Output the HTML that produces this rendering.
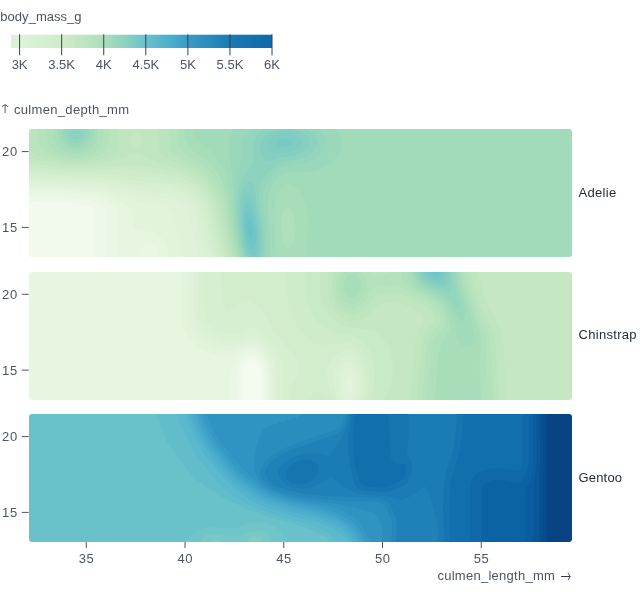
<!DOCTYPE html>
<html><head><meta charset="utf-8"><title>penguins</title>
<style>
html,body{margin:0;padding:0;background:#fff;}
body{width:640px;height:599px;overflow:hidden;}
svg{display:block;font-family:"Liberation Sans",sans-serif;font-size:13px;fill:#4b5563;}
.ar{font-family:"DejaVu Sans Light","DejaVu Sans",sans-serif;font-weight:200;font-size:12px;fill:#333d4d;}
</style></head><body>
<svg width="640" height="599" viewBox="0 0 640 599">
<defs><linearGradient id="lg" x1="0" x2="1" y1="0" y2="0"><stop offset="0.0000" stop-color="#dcf1d7"/><stop offset="0.0323" stop-color="#def2d8"/><stop offset="0.0645" stop-color="#dbf1d5"/><stop offset="0.0968" stop-color="#d8f0d2"/><stop offset="0.1290" stop-color="#d5efd0"/><stop offset="0.1613" stop-color="#d2edcd"/><stop offset="0.1935" stop-color="#cfecca"/><stop offset="0.2258" stop-color="#c9eac6"/><stop offset="0.2581" stop-color="#c3e7c2"/><stop offset="0.2903" stop-color="#bbe5bf"/><stop offset="0.3226" stop-color="#b4e2bc"/><stop offset="0.3548" stop-color="#abdeba"/><stop offset="0.3871" stop-color="#9fdabb"/><stop offset="0.4194" stop-color="#92d5bd"/><stop offset="0.4516" stop-color="#84cfc1"/><stop offset="0.4839" stop-color="#77c9c5"/><stop offset="0.5161" stop-color="#69c2ca"/><stop offset="0.5484" stop-color="#5fbbcc"/><stop offset="0.5806" stop-color="#55b4cd"/><stop offset="0.6129" stop-color="#4badcc"/><stop offset="0.6452" stop-color="#42a4ca"/><stop offset="0.6774" stop-color="#399cc6"/><stop offset="0.7097" stop-color="#3395c3"/><stop offset="0.7419" stop-color="#2d8ebf"/><stop offset="0.7742" stop-color="#2788bc"/><stop offset="0.8065" stop-color="#2181b9"/><stop offset="0.8387" stop-color="#1b7bb5"/><stop offset="0.8710" stop-color="#1877b3"/><stop offset="0.9032" stop-color="#1574b1"/><stop offset="0.9355" stop-color="#1370ae"/><stop offset="0.9677" stop-color="#116cac"/><stop offset="1.0000" stop-color="#0f69a9"/></linearGradient></defs>
<rect width="640" height="599" fill="#fff"/>
<text x="0.3" y="20.6" textLength="81.3">body_mass_g</text>
<rect x="11" y="34.7" width="261" height="13.3" fill="url(#lg)"/>
<line x1="19.60" x2="19.60" y1="34.3" y2="55.3" stroke="#374151" stroke-width="1"/><text x="19.60" y="69.3" text-anchor="middle">3K</text><line x1="61.67" x2="61.67" y1="34.3" y2="55.3" stroke="#374151" stroke-width="1"/><text x="61.67" y="69.3" text-anchor="middle">3.5K</text><line x1="103.74" x2="103.74" y1="34.3" y2="55.3" stroke="#374151" stroke-width="1"/><text x="103.74" y="69.3" text-anchor="middle">4K</text><line x1="145.81" x2="145.81" y1="34.3" y2="55.3" stroke="#374151" stroke-width="1"/><text x="145.81" y="69.3" text-anchor="middle">4.5K</text><line x1="187.88" x2="187.88" y1="34.3" y2="55.3" stroke="#374151" stroke-width="1"/><text x="187.88" y="69.3" text-anchor="middle">5K</text><line x1="229.95" x2="229.95" y1="34.3" y2="55.3" stroke="#374151" stroke-width="1"/><text x="229.95" y="69.3" text-anchor="middle">5.5K</text><line x1="272.02" x2="272.02" y1="34.3" y2="55.3" stroke="#374151" stroke-width="1"/><text x="272.02" y="69.3" text-anchor="middle">6K</text>
<text transform="translate(-2.2,113.4) scale(1.4,1)" class="ar">↑</text><text x="14" y="113.8" textLength="115">culmen_depth_mm</text>
<g>
<rect x="27" y="127" width="547" height="132" fill="#f1faeb"/>
<path fill="#eef8e8" fill-rule="evenodd" d="M27 127l546 0 0 132 -478.5 0 0-46 -0.5-2 -1-2 -2.5-2 -5-2 -10.5-2 -18-1 -30-0.5z"/>
<path fill="#eaf7e4" fill-rule="evenodd" d="M27 127l546 0 0 132 -466.5 0 0-48 -1.5-3 -3-3 -3.5-2 -5-2 -12.5-2.5 -20-1.5 -34-0.5z"/>
<path fill="#e7f6e1" fill-rule="evenodd" d="M27 127l546 0 0 132 -414.5 0 0.5-2 -0.5-4 -1.5-4 -2-2.5 -2-1.5 -4-0.5 -4 1 -3.5 3.5 -1.5 4 0 4 0.5 2 -22.5 0 -1-48 -2-4 -4.5-4 -5.5-3 -6-2.5 -14-3 -20-1 -38-1z"/>
<path fill="#e3f4dd" fill-rule="evenodd" d="M27 127l546 0 0 132 -405 0 0-6 -0.5-4 -2.5-6 -3-4 -3-3 -6-3.5 -4-1 -10-1 -3-1.5 -1.5-2 -1.5-4 -1-12 -1.5-2 -5-4 -11-6 -13.5-5 -14-2.5 -20-1.5 -40-1z"/>
<path fill="#e0f3da" fill-rule="evenodd" d="M27 127l546 0 0 132 -389 0 -3-16 -8.5-30 -0.5-2 -3-2.5 -8-2.5 -28-6 -24-8 -13-3 -19-1.5 -50-1.5z"/>
<path fill="#dcf1d7" fill-rule="evenodd" d="M27 127l546 0 0 132 -374 0 -11.5-48 -2.5-4 -2-2 -6-3.5 -10-2.5 -34-4.5 -26-7 -12-2 -16-1 -52-2z"/>
<path fill="#d9f0d3" fill-rule="evenodd" d="M27 127l546 0 0 132 -367 0 -11.5-50 -2.5-4 -3-3 -4-3 -3.5-2 -6-2 -6.5-1.5 -36-4 -26-5.5 -10-1.5 -70-3z"/>
<path fill="#d5efd0" fill-rule="evenodd" d="M27 127l546 0 0 132 -361.5 0 -10.5-46 -2-5.5 -2.5-4.5 -3.5-4 -4-3.5 -6-3 -6-2 -8-2 -36-3.5 -32-5 -74-3.5z"/>
<path fill="#d2edcc" fill-rule="evenodd" d="M27 127l546 0 0 132 -357.5 0 -11.5-50 -1.5-4 -3.5-5.5 -4-4.5 -4-3 -6-3.5 -6-2 -8-2 -10-1.5 -60-6 -36-1.5 -38-2z"/>
<path fill="#ceecc9" fill-rule="evenodd" d="M27 127l546 0 0 132 -354 0 -12-52 -3-6 -3-4.5 -4-4.5 -4-3.5 -6-3.5 -8-3 -10-2 -14-2 -46-4 -42-1 -40-3z"/>
<path fill="#c9eac6" fill-rule="evenodd" d="M27 127l546 0 0 132 -351 0 -10.5-48 -2-6 -2.5-6 -4-6 -4-4.5 -6-4.5 -8-4.5 -10-3 -12-2 -22-3 -20-1 -52 0 -42-4z"/>
<path fill="#c5e8c3" fill-rule="evenodd" d="M27 127l546 0 0 132 -348 0 -10.5-48 -2.5-8 -3-6.5 -4-6 -4.5-5.5 -5.5-4.5 -8-4.5 -10-3.5 -38-7.5 -10 0 -36 2.5 -18 0.5 -16-1 -32-4z"/>
<path fill="#c0e6c0" fill-rule="evenodd" d="M27 127l546 0 0 132 -345 0 -5-22 -6-28 -2.5-8 -3.5-7.5 -4-6.5 -6-6.5 -6-4.5 -6-3.5 -6-2.5 -29-9 -17-8 -4 0.5 -12 5.5 -10 2.5 -14 2.5 -14 1 -12 0 -10-1 -34-6zM137 133l-2 0.5 -2.5 1.5 -1.5 2.5 -0.5 3.5 0.5 3.5 2 2.5 2 1.5 2 0 2-0.5 2-1.5 2-3 0.5-2.5 -0.5-3.5 -1.5-2.5 -2.5-1.5z"/>
<path fill="#bae4be" fill-rule="evenodd" d="M27 127l93 0 -2 10 -1 12 -1 2 -3 3.5 -4.5 2.5 -9.5 3 -10 1.5 -12 1 -12-1 -14-2.5 -14-4 -9-4 -1-1zM156 127l417 0 0 132 -342.5 0 -5-22 -6-30 -2.5-8.5 -4-8.5 -4-6 -4-5 -8-7 -8-4.5 -21-8.5 -5-3 -3.5-3 -1-4 0.5-6 -0.5-6 -1-6z"/>
<path fill="#b4e2bc" fill-rule="evenodd" d="M38.5 127l72 0 -1 10 -2 10 -2 4 -2.5 2 -6 3 -8 2.5 -8 1 -8 0 -8-1 -7.5-1.5 -10.5-4 -5.5-4 -1.5-4 -2-6 0-6zM168 127l405 0 0 132 -340 0 -5-22 -5.5-32 -2.5-8 -3.5-8 -6.5-10 -7-7.5 -8-6 -17-8.5 -5-4 -1.5-2 -1.5-4z"/>
<path fill="#aee0bb" fill-rule="evenodd" d="M47.5 127l55.5 0 0 6 -0.5 6 -2 6 -2 4 -2 2 -3.5 2 -6 2 -8 1.5 -8 0 -6-1 -6-2 -4-2 -3-2.5 -1.5-2 -2-4 -1.5-6 0-4zM177 127l396 0 0 132 -337.5 0 -5.5-24 -5-32 -2-8 -3-8 -6-10 -7-8.5 -8-6 -12.5-7.5 -5.5-5 -2-4 -1.5-7z"/>
<path fill="#a8ddba" fill-rule="evenodd" d="M54 127l43.5 0 0.5 6 -1 6 -1.5 4 -2.5 4 -2 2 -4 2.5 -4 1 -6 1 -6-0.5 -4-0.5 -6.5-3.5 -2.5-2 -2.5-4 -2-4 -0.5-4 0-4zM184.5 129l0.5-2 388 0 0 132 -335 0 -6-26 -5-36 -4-14 -5-10 -7-9 -6-5 -12.5-8 -3.5-3.5 -2.5-4.5 -1.5-4 -0.5-4zM285 208.5l-2 3.5 -1.5 5 -0.5 6 0 8 1.5 8 1 4 1.5 2.5 2 2 2 0 2.5-2.5 2.5-6 1.5-8 -0.5-8 -1.5-8 -2.5-5.5 -2-2 -2 0z"/>
<path fill="#a2dbba" fill-rule="evenodd" d="M58.5 127l34.5 0 1 6 -1.5 6 -3.5 6 -2.5 2 -3.5 2 -6 1 -4 0 -4-1 -6-3.5 -3.5-4.5 -2-6 0-4zM196 127l377 0 0 132 -269.5 0 3-12 1-14 0-14 -1.5-12 -3.5-10 -3-6 -4.5-4 -4-2 -2-0.5 -4 1 -2 1 -4 4 -2.5 4.5 -2 8 -1 10 0.5 14 1 18.5 1.5 13.5 -36.5 0 -3.5-14 -2.5-12 -4.5-42 -1.5-8 -2-8 -4.5-10 -6.5-9.5 -6-6 -10-7 -2.5-3.5 -1.5-3 -0.5-3z"/>
<path fill="#9bd8bb" fill-rule="evenodd" d="M62.5 127l26.5 0 1 4 -0.5 6 -2.5 4.5 -4 3.5 -6 2 -6-1 -5-3 -3.5-4 -1.5-6zM234 129l1.5-2 98.5 0 4.5 6 1.5 4 1 4 0 4 -0.5 4 -1.5 4 -4 6 -8 7 -8 4 -6 2 -8 0.5 -14 0 -6 0.5 -4 2 -2 1.5 -4 4.5 -2.5 4 -3.5 8 -1.5 8 2.5 38 0 20 -28.5 0 -1-4 -2.5-12 -3-16 -1-14 -2-42 -3.5-22 0-6 0.5-4 2.5-6z"/>
<path fill="#94d5bd" fill-rule="evenodd" d="M66.5 127l19 0 1.5 4 -0.5 4 -0.5 2 -3 4 -4 2 -4 0.5 -4-1 -4-3.5 -2-4 0-4zM252 129l3-2 60.5 0 3.5 2.5 3 3.5 2.5 4 1 4 0 4 -1 4 -2.5 4 -5 4.5 -6 3.5 -6 2.5 -18 2.5 -6 1.5 -4 2.5 -3 3 -8 12 -2.5 6 -1 8 4 34 0 14 -0.5 12 -22.5 0 -4-16 -3-18 -0.5-18 0-18 1.5-12 3-16 1-16 1.5-4 1.5-4 3-4z"/>
<path fill="#8dd2be" fill-rule="evenodd" d="M71 127l10 0 2 3.5 0.5 2.5 -0.5 2 -2 2.5 -2 1.5 -4 1 -2.5-1 -2.5-2 -1-2 -0.5-4 0.5-2zM264.5 129l4.5-2 33 0 7 3.5 5 4.5 2.5 4 0.5 2 -0.5 4 -1.5 4 -1.5 2 -2.5 2.5 -4 2.5 -8 3 -18 3.5 -6 2.5 -6 6 -7 10 -2.5 6 -1 8 4 26 1 12 0.5 14 -1 12 -17.5 0 -4.5-16 -2.5-18 -1-18 1.5-17.5 2-8.5 2-4.5 2-3 6-6 2-4.5 0.5-6 -1-12 1.5-6 4.5-6z"/>
<path fill="#86cfc0" fill-rule="evenodd" d="M280 129l7-0.5 6 0.5 6 2 4 2 3 2 3 4 0.5 4 -1 4 -4 4 -5.5 3 -6 1.5 -14 2.5 -12 4 -2 0 -2-2.5 -2.5-8.5 -0.5-6 1-4 2-4 5-4 5-2.5zM75 133l0-0.5 1 0.5 -1 0zM246.5 183l2.5-1 2 0 2 2.5 6.5 32.5 2 12 0.5 10 -0.5 12 -1 8 -13 0 -3-8 -3-12 -2-18 0.5-18 1-8 1.5-6 2.5-4.5z"/>
<path fill="#7fccc3" fill-rule="evenodd" d="M282.5 133l6.5 0 4 1 4 1.5 4 3.5 1 2 0.5 2 -1 2 -1 2 -3 2 -6.5 2.5 -14 2 -6-1 -2.5-1.5 -1.5-4 0-3 1-3 1-2 4-3 4-2zM246.5 193l0.5-0.5 2 0.5 2.5 4 3.5 9.5 3.5 14.5 1.5 12 0 10 -1 10 -1.5 6 -7.5 0 -1-2 -4-10 -2-10 -1.5-14 0-14 1.5-9.5 2-5z"/>
<path fill="#77c9c5" fill-rule="evenodd" d="M282 139l3-0.5 4 1 2.5 1.5 0.5 2 -1.5 2 -3.5 1.5 -4 0.5 -4-1 -1.5-1 -0.5-2 1-2zM246 203l1-1.5 2 0 2 2.5 4 11 2.5 12 0.5 10 -0.5 10 -0.5 4 -2 4 -2 1 -2-1 -2-3 -2-5 -2-7 -1-7 -1-8 0-10 1.5-8z"/>
<path fill="#70c5c8" fill-rule="evenodd" d="M246.5 211l0.5-0.5 2-1 2 2.5 2 4.5 2 8.5 1 8 0 8 -1 5.5 -2 3 -2-0.5 -2-3 -2-5.5 -1.5-7.5 -0.5-6 0-8 0.5-4z"/>
<path fill="#69c2ca" fill-rule="evenodd" d="M249 219l2 1.5 2 8.5 0 10 -2 2 -2-3.5 -1.5-8.5 0-6z"/>
<path fill="#fff" fill-rule="evenodd" d="M26 126h549v134h-549zM32 129h537a3 3 0 0 1 3 3v122a3 3 0 0 1 -3 3h-537a3 3 0 0 1 -3 -3v-122a3 3 0 0 1 3 -3z"/>
</g>
<g>
<rect x="27" y="270" width="547" height="132" fill="#f5fbee"/>
<path fill="#f1faeb" fill-rule="evenodd" d="M27 270l546 0 0 132 -313 0 1-6 0.5-8 -0.5-14 -1.5-6 -2-4 -2.5-3 -2-0.5 -2 0 -2 0.5 -2 2 -2 4 -1.5 5 -1 14 0.5 8 1.5 8 -217.5 0z"/>
<path fill="#eef8e8" fill-rule="evenodd" d="M27 270l546 0 0 132 -310.5 0 1-8 0-10 -0.5-9.5 -1-6.5 -2.5-6 -2.5-3.5 -2-1.5 -4-0.5 -4 1.5 -2 2 -2.5 4 -1.5 6 -1 8 -0.5 8 1.5 16 -214 0z"/>
<path fill="#eaf7e4" fill-rule="evenodd" d="M27 270l546 0 0 132 -308.5 0 1-10 0-10 -0.5-8 -1.5-8 -2-6 -2.5-3.5 -4-3 -4-0.5 -4 1 -4 3.5 -3.5 4.5 -1.5 4 -1.5 8 0 8 0 10 1 10 -210.5 0z"/>
<path fill="#e7f6e1" fill-rule="evenodd" d="M27 270l546 0 0 132 -306 0 0.5-10 0-12 -1-10 -1.5-7.5 -2-4.5 -4-5 -4-2.5 -4-0.5 -6 2 -5.5 4 -3.5 4 -3.5 6 -1.5 6 -0.5 8 1 22 -204.5 0z"/>
<path fill="#e3f4dd" fill-rule="evenodd" d="M181.5 270l391.5 0 0 132 -304 0 0.5-20 -1.5-16 -1.5-6 -2-4 -2.5-4 -3-2.5 -4-2 -2-0.5 -4 0 -4 1.5 -14 7.5 -4 1 -6-0.5 -10-3.5 -12-6 -6.5-5 -5-6 -4-8 -1.5-10z"/>
<path fill="#e0f3da" fill-rule="evenodd" d="M189 270l384 0 0 132 -301.5 0 0.5-22 -2-16 -1.5-6 -2-4 -5.5-6.5 -4-2.5 -6-1.5 -4 1 -14 5.5 -4 0.5 -6-1 -8-2.5 -10-5 -6-4.5 -5-5.5 -2-4 -1.5-4 -1-8zM347 377.5l-1.5 4.5 -0.5 4 2 5.5 2 1.5 2-1 1-2 1-4 0-4 -2-5 -2-1z"/>
<path fill="#dcf1d7" fill-rule="evenodd" d="M194 270l379 0 0 132 -298.5 0 0-22 -1.5-16 -1.5-6 -2-4 -2.5-4 -4-5 -6-4 -4-1 -6 1 -10 3.5 -4 1 -4 0 -6-1 -8-3 -8-4.5 -6-4.5 -3.5-4.5 -2-6 -1.5-8zM349 368l-2 0.5 -2 1.5 -2 3 -1.5 5 -0.5 6 0.5 6 1.5 4.5 2 3.5 2 2 2 1 2-0.5 2-1.5 2-3.5 1.5-5.5 0.5-6 -0.5-6 -1.5-4.5 -2-3.5 -2-1.5z"/>
<path fill="#d9f0d3" fill-rule="evenodd" d="M198.5 270l374.5 0 0 132 -217.5 0 3-6 1-6 0.5-8 -1-6 -1.5-6 -2.5-4.5 -2-2 -4-2 -4 1 -3.5 3.5 -2 4 -1.5 6 -0.5 6 1 8 1.5 6 3 6 -65.5 0 0.5-24 -2-16 -1.5-6 -2-4 -3.5-5 -4-4.5 -6-5 -6-2 -4 0 -14 5 -4 0.5 -6-1 -6-2 -8-4 -5.5-4 -3-4 -2.5-6 -1.5-8z"/>
<path fill="#d5efd0" fill-rule="evenodd" d="M204 270l369 0 0 132 -213.5 0 2-6 1-8 0-8 -1-8 -2-6 -2.5-5 -4-4 -4-1.5 -4 0.5 -2 1 -3.5 3 -3.5 6 -2 6 -0.5 6 0.5 8 1.5 8 3 8 -57 0 1.5-26 -0.5-8 -1.5-8 -2.5-6 -3-6 -10.5-12.5 -6-5.5 -2-1.5 -4-1 -2 0 -4 1.5 -8 4.5 -4 1.5 -4 0 -4-0.5 -6-1.5 -6-3 -5-4 -3-4 -2-5.5 -0.5-6.5z"/>
<path fill="#d2edcc" fill-rule="evenodd" d="M222 270l351 0 0 132 -210.5 0 2-8 1-10 -0.5-10 -1.5-8 -2.5-6 -4-6 -4-3.5 -2-0.5 -4-1 -6 2 -4.5 3 -4 4 -2.5 4 -2.5 6 -0.5 6 1 8 2 8 4.5 12 -46.5 0 3-12 2-5.5 5.5-10.5 1-4 0-4 -1.5-4 -8.5-12 -16.5-20 -12-20.5 -4-4.5 -4-3.5 -2-1 -4-1 -4 1 -4 2 -10 9.5 -2 0 -2-1 -2-5 -0.5-4z"/>
<path fill="#ceecc9" fill-rule="evenodd" d="M286.5 270l286.5 0 0 132 -206.5 0 2-12 0.5-14 -1.5-12 -2-6 -2.5-5 -2-3 -4-4 -6-3 -4-1 -4 0.5 -14 3 -6-0.5 -4-1.5 -6-3 -6-4 -4.5-4.5 -3.5-4 -4-6 -2.5-6 -2.5-8 -3-16zM312.5 396l4.5-1.5 4 0 4 3 3 4.5 -23.5 0 4.5-3.5z"/>
<path fill="#c9eac6" fill-rule="evenodd" d="M304.5 270l268.5 0 0 132 -202 0 3-16 1-14 -1.5-10 -1.5-6 -2.5-6 -4.5-6.5 -6-5 -8-3 -14-2.5 -6-2 -8-4.5 -7-6.5 -5-8 -3.5-10 -2.5-14z"/>
<path fill="#c5e8c3" fill-rule="evenodd" d="M320 270l253 0 0 132 -190.5 0 7.5-16 2-8 1-6 0-8 -1-6 -1.5-6 -2.5-6 -5.5-8 -3.5-3.5 -3.5-2.5 -6.5-2 -18-2.5 -8-2 -6-3 -6-5 -3-3.5 -3.5-6 -3.5-10 -1.5-12z"/>
<path fill="#c0e6c0" fill-rule="evenodd" d="M328.5 272l0.5-2 149 0 2.5 14 4.5 14 4 10 9.5 16 3.5 10 2 16 2.5 52 -97 0 5.5-60 2.5-10 5.5-12 0-4 -1.5-2 -5-4 -13.5-6 -8-1.5 -8 0 -4 0.5 -4 2 -11.5 11 -6.5 3.5 -4 1 -4 0.5 -4-0.5 -4-1.5 -5.5-3 -4-4 -2.5-4 -3-6 -1.5-6 -1-8 0-8z"/>
<path fill="#bae4be" fill-rule="evenodd" d="M334.5 272l0.5-2 135.5 0 2.5 14 8 22 4 9.5 7 12.5 2.5 8 1.5 12 3 54 -82.5 0 5.5-58 1.5-6 1.5-4 2.5-4 5.5-7 1.5-3 0-4 -1.5-4 -4-4 -3-2 -20.5-10 -8.5-2 -12-0.5 -6 1 -4 2 -10 12 -6 4.5 -6 2 -6-1 -4-2.5 -4-3.5 -2.5-4 -2.5-6 -1.5-6 -0.5-6 0.5-6z"/>
<path fill="#b4e2bc" fill-rule="evenodd" d="M340 270l27 0 6 4.5 2 1 4 0.5 10-3 6-3 71 0 2.5 12 2.5 8 8.5 24 8 16 2.5 8 1 8 3 56 -72.5 0 5.5-56 1.5-6 2-4 2.5-4 5.5-6 2-4 0-4 -2-6 -3-4 -4.5-4 -26-14.5 -8-2.5 -16-2 -4 0.5 -4 3 -9 13.5 -5 5 -2 1 -4 1.5 -4-0.5 -2-0.5 -4-3 -3-3.5 -2-4 -1.5-6 -0.5-6 0.5-6 2-6z"/>
<path fill="#aee0bb" fill-rule="evenodd" d="M344.5 272l2-2 12 0 4.5 4 3.5 6 0 6 -3 8 -4 6 -4.5 3.5 -4 0.5 -4-1.5 -4-4 -2-4.5 -1-6 0-6 2-6zM402.5 272l0.5-2 60 0 2 11 2 7 5.5 14 4.5 15 7 15 1.5 6 1 6 0 20 2 38 -62 0 4.5-46 1.5-10 1-4 2.5-4 8-10 1.5-4 0-4 -1-4 -2-4 -2.5-4 -3.5-4 -5.5-4 -16-9 -6.5-5 -4.5-4 -2.5-4 0-2z"/>
<path fill="#a8ddba" fill-rule="evenodd" d="M407.5 270l52.5 0 3.5 16 6 16 4.5 16 5.5 14 1.5 6 0 6 -1.5 22 1.5 36 -46.5 0 4.5-50 2.5-8 5.5-8.5 2-4.5 1-5 -0.5-4 -1-4 -2.5-6 -3.5-6 -3.5-3.5 -6-4.5 -14-8 -5.5-4 -3.5-4 -2-4 -0.5-2zM347.5 276l3.5-2 4 0.5 2 1.5 2 2 2 4 0 4 -1.5 6 -2.5 3.5 -4 2.5 -2 0 -2-0.5 -2-1.5 -2-3 -1-3 -0.5-4 1-4 1.5-4z"/>
<path fill="#a2dbba" fill-rule="evenodd" d="M411 270l46.5 0 3.5 16 6 18 3.5 16 4 14 -0.5 6 -1 3 -2 2.5 -2 1 -4 0 -4-1.5 -2-2 -2.5-5 -1-10 -1.5-6 -3.5-8 -5-8 -3-4 -4.5-4 -15-8.5 -7-5.5 -4.5-6 -0.5-4z"/>
<path fill="#9bd8bb" fill-rule="evenodd" d="M413.5 270l42 0 3 18 5 14 1.5 6 0 9 -2 4.5 -2-0.5 -2-1.5 -12.5-17.5 -4-4 -5.5-3.5 -12-6 -6-5 -4-5.5 -1.5-4z"/>
<path fill="#94d5bd" fill-rule="evenodd" d="M416 270l37 0 3 20 3 12 0 4.5 -2 1 -2-1.5 -5.5-6 -4.5-4 -4-2.5 -12-5.5 -6-4 -5-6 -1.5-4z"/>
<path fill="#8dd2be" fill-rule="evenodd" d="M418.5 270l32.5 0 1 10 0 6 -1 4 -2 2 -4-0.5 -10-3 -8-4 -4-3.5 -2.5-3 -1.5-4z"/>
<path fill="#86cfc0" fill-rule="evenodd" d="M421 270l28 0 0.5 8 -1 6 -1.5 2 -2 1 -2 0.5 -6-1 -6-2.5 -4-2.5 -3.5-3.5 -2-4z"/>
<path fill="#7fccc3" fill-rule="evenodd" d="M423.5 270l23 0 0.5 6 -1 4 -1 2 -2 1.5 -2 0.5 -4-0.5 -4-1 -4-2.5 -2.5-2 -2.5-4z"/>
<path fill="#77c9c5" fill-rule="evenodd" d="M426.5 270l17 0 0.5 4 -1 4 -2 2 -2 0.5 -4-0.5 -2-0.5 -4.5-3.5 -1.5-3z"/>
<path fill="#70c5c8" fill-rule="evenodd" d="M430.5 270l9 0 0.5 2 0 2 -2 2 -3.5 0 -2.5-2 -1.5-2z"/>
<path fill="#fff" fill-rule="evenodd" d="M26 269h549v134h-549zM32 272h537a3 3 0 0 1 3 3v122a3 3 0 0 1 -3 3h-537a3 3 0 0 1 -3 -3v-122a3 3 0 0 1 3 -3z"/>
</g>
<g>
<rect x="27" y="412" width="547" height="132" fill="#7fccc3"/>
<path fill="#77c9c5" fill-rule="evenodd" d="M27 412l546 0 0 132 -546 0zM213 539.5l-1 0.5 -1 2 2 1 4 0 2.5-1 -1.5-2zM251 537.5l-2.5 2.5 1 2 3.5 1 6-0.5 1.5-0.5 1.5-2 -0.5-2 -2.5-1 -4-0.5z"/>
<path fill="#70c5c8" fill-rule="evenodd" d="M27 412l546 0 0 132 -303 0 1.5-2 0.5-2 -0.5-2 -1-2 -2-2 -3.5-2 -4-1.5 -4 0 -6 1 -16 5.5 -6-0.5 -12-2.5 -4 0 -4 0.5 -3.5 1.5 -2.5 2 -1.5 2 0 2 0.5 2 -175 0z"/>
<path fill="#69c2ca" fill-rule="evenodd" d="M27 412l546 0 0 132 -287.5 0 1-2 -1-4 -2.5-4 -4-4 -4-3 -6-2.5 -6-1.5 -6-0.5 -8 0.5 -13 5 -3 0.5 -4 0 -16-1.5 -4 0.5 -6 1 -6 3 -6.5 4.5 -3 4 -0.5 2 0.5 2 -160.5 0z"/>
<path fill="#62bdcb" fill-rule="evenodd" d="M156 412l417 0 0 132 -243 0 -1-3 -2-3 -4-3 -23-9 -37-11 -12-4.5 -28-12.5 -26-17.5 -6-6 -24-32.5 -9-22 -1-4z"/>
<path fill="#5bb9cd" fill-rule="evenodd" d="M178 412l395 0 0 132 -232.5 0 -7.5-8 -4-3 -4-2 -16-6 -30.5-9 -19.5-6.5 -15.5-7.5 -10.5-6 -5.5-4 -6.5-6 -7-8 -14.5-18 -5.5-8 -5.5-10 -6.5-14 -2-6z"/>
<path fill="#55b4cd" fill-rule="evenodd" d="M185.5 412l387.5 0 0 132 -223.5 0 -2.5-4.5 -5-5.5 -6-4 -7.5-4 -10.5-4 -33-8 -20-7 -8-3.5 -8-4.5 -14-10.5 -6-5 -7-7.5 -14.5-18 -7-10 -4.5-8 -6-12 -2.5-8z"/>
<path fill="#4eafcd" fill-rule="evenodd" d="M189.5 412l383.5 0 0 132 -219.5 0 -2.5-5.5 -4-5 -6-5 -8-4.5 -14-5.5 -30-7 -20-7 -8-3.5 -8-4.5 -14-9.5 -6-5 -7.5-8 -13-16 -8.5-12 -6-10 -4.5-10 -2.5-8z"/>
<path fill="#48aacc" fill-rule="evenodd" d="M192.5 412l380.5 0 0 132 -216 0 -4-8 -4-5 -6-5 -8-4.5 -14-5.5 -30-7 -22-7.5 -14-7 -15-10.5 -6.5-6 -5.5-6 -13-16 -7.5-10 -5-8 -5-10 -3-8z"/>
<path fill="#42a4ca" fill-rule="evenodd" d="M195.5 412l377.5 0 0 132 -213 0 -3.5-8 -4.5-6 -7-6 -8-4.5 -14-6 -30-7 -22-7 -6-2.5 -8-4.5 -15-10.5 -6.5-6 -5.5-6 -13-16 -7.5-10 -5-8 -4.5-10 -3-8z"/>
<path fill="#3c9fc7" fill-rule="evenodd" d="M198.5 412l374.5 0 0 132 -210 0 -3.5-8 -4.5-7 -6-5.5 -10-6 -8-4 -8-3 -30-6.5 -22-7 -10-5 -17-12 -5-4.5 -6-6 -20-25.5 -5-8 -5-10 -3-8z"/>
<path fill="#3699c5" fill-rule="evenodd" d="M201.5 412l371.5 0 0 132 -207 0 -3.5-10 -5.5-7.5 -6-5.5 -10-6 -8-4 -8-3 -30-5.5 -22-7 -6-3 -4.5-2.5 -16-12 -5.5-5 -6-6 -14-17.5 -6-8 -8-14.5 -4-9z"/>
<path fill="#3193c2" fill-rule="evenodd" d="M206 412l367 0 0 132 -202.5 0 -3.5-10 -3.5-6 -2.5-3.5 -8-7.5 -10-6 -7.5-3 -6.5-2 -28-4.5 -12-3 -16-5.5 -4-1.5 -5-3.5 -23-21 -18-21.5 -6-8.5 -4-7 -4-9z"/>
<path fill="#2b8cbe" fill-rule="evenodd" d="M307 414l2-2 264 0 0 132 -190.5 0 0-10 -1.5-10 -4-8 -1.5-2 -2.5-1.5 -16.5-4.5 -19.5-4 -38-5 -17-5 -11-4 -6-4 -5.5-6 -3.5-6 -2-6 0-8 1.5-10 3.5-11.5 3.5-6.5 0.5-2 2-2 2 0 2-2 2 0 2-2 4 0 2-2 6 0 2-2 4 0 2-2 4 0 2-2 2 0 2-2z"/>
<path fill="#2587bb" fill-rule="evenodd" d="M344 412l229 0 0 132 -182 0 1.5-18 -1-6 -5-12 -3-4 -2.5-1.5 -6-1 -34-1 -36-3 -15.5-3.5 -12.5-4 -4.5-2 -3.5-2 -4-4 -3-4 -1.5-4 0-4 0.5-2 2.5-4 3.5-4 8-6.5 14-7.5 40.5-14 5.5-2 4-2 2-2.5 1.5-3.5z"/>
<path fill="#2081b8" fill-rule="evenodd" d="M347 412l226 0 0 132 -177 0 1-18 -0.5-6 -2-6 -4-8 -2.5-4 -3-2 -4-1.5 -4-0.5 -50-2 -24-2 -16-4 -11.5-4 -2.5-1 -5-5 -3-6 0-4 1-2 5-6 8-6 12-6 26-9 18-6.5 4-1.5 3-3 2.5-4 1.5-6z"/>
<path fill="#1b7bb5" fill-rule="evenodd" d="M349 412l224 0 0 132 -135.5 0 1-12 -1.5-11.5 -6-20.5 -4-11 -2-3 -2 1 -3 3 -7 5 -8 4 -4 1 -16-4 -22-1.5 -8-2 -9-4.5 -8.5-6 -4.5-4.5 -2-1 -4.5 3.5 -6.5 4 -7 3 -6 1 -6 0.5 -6-0.5 -4-1.5 -5.5-2.5 -2.5-2 -3.5-4 -1.5-4 0-2 1-2 2.5-4 4-4 5.5-3.5 4-2 6-2 8-1.5 6 0 8 1.5 6 2 2.5-4.5 9.5-13 4-7 3-8z"/>
<path fill="#1675b1" fill-rule="evenodd" d="M351.5 412l58 0 -1 12 0 14 -1.5 14 1 4 3.5 6 0.5 6 -2 10 -2 4 -3 3 -12 5.5 -8 1.5 -22-1 -4-2 -3-3 -2-4 -4-14 -2-18 0-14 2.5-12zM457.5 412l115.5 0 0 132 -130 0 1-12 -1-26 1-22 1.5-10 6-18 2-8 2.5-20zM302.5 460l4.5-0.5 4 0.5 4 2 2 1.5 1.5 2.5 0.5 2 0 2 -1.5 4 -2.5 3.5 -3 2.5 -3 2 -4 1.5 -4 0.5 -4 0 -6-1.5 -3-2.5 -1.5-2 -0.5-4 1.5-4 1.5-2.5 4-3.5 4-2.5z"/>
<path fill="#126fad" fill-rule="evenodd" d="M355.5 412l32.5 0 2 40 1 6 2 4 2 1.5 2 0 6.5 0.5 1.5 1 1 3 0 4 -1 4 -2 3 -2 1.5 -11.5 5.5 -6.5 1.5 -16-1 -4-1.5 -2-1.5 -2-4 -4-13.5 -1-12 -1-20zM464 412l109 0 0 132 -123.5 0 0.5-12 -0.5-24 1-24 1.5-8 8-26 2-16z"/>
<path fill="#0f69a9" fill-rule="evenodd" d="M522.5 412l50.5 0 0 132 -103 0 0-52 0.5-6 1.5-6 2.5-4 2.5-2.5 4-2 8-2.5 6-1 6 0 6 0.5 10 2.5 2 0 2-2 1-3 0.5-6z"/>
<path fill="#0c63a4" fill-rule="evenodd" d="M529 412l44 0 0 132 -91.5 0 0-50 0.5-4 1-4 1.5-2 2.5-2 6.5-2 9.5-0.5 14 3.5 2 0 2-1.5 2-3 4-8.5 1.5-6z"/>
<path fill="#0a5d9e" fill-rule="evenodd" d="M533 412l40 0 0 132 -48 0 0-52 2-7 2-2 2-3.5 2-11.5z"/>
<path fill="#095698" fill-rule="evenodd" d="M536.5 412l36.5 0 0 132 -40 0 0-52 3.5-26z"/>
<path fill="#085092" fill-rule="evenodd" d="M540 412l33 0 0 132 -34 0 0-50 1-28z"/>
<path fill="#084a8b" fill-rule="evenodd" d="M543.5 412l29.5 0 0 132 -30.5 0z"/>
<path fill="#084384" fill-rule="evenodd" d="M547 412l26 0 0 132 -26 0z"/>
<path fill="#fff" fill-rule="evenodd" d="M26 411h549v134h-549zM32 414h537a3 3 0 0 1 3 3v122a3 3 0 0 1 -3 3h-537a3 3 0 0 1 -3 -3v-122a3 3 0 0 1 3 -3z"/>
</g>
<line x1="21.8" x2="28.7" y1="151.60" y2="151.60" stroke="#4b5563" stroke-width="1"/><text x="2.1" y="156.00" textLength="15.2">20</text><line x1="21.8" x2="28.7" y1="227.40" y2="227.40" stroke="#4b5563" stroke-width="1"/><text x="2.1" y="231.80" textLength="15.2">15</text><line x1="21.8" x2="28.7" y1="294.30" y2="294.30" stroke="#4b5563" stroke-width="1"/><text x="2.1" y="298.70" textLength="15.2">20</text><line x1="21.8" x2="28.7" y1="370.10" y2="370.10" stroke="#4b5563" stroke-width="1"/><text x="2.1" y="374.50" textLength="15.2">15</text><line x1="21.8" x2="28.7" y1="436.60" y2="436.60" stroke="#4b5563" stroke-width="1"/><text x="2.1" y="441.00" textLength="15.2">20</text><line x1="21.8" x2="28.7" y1="512.40" y2="512.40" stroke="#4b5563" stroke-width="1"/><text x="2.1" y="516.80" textLength="15.2">15</text>
<line x1="86.25" x2="86.25" y1="542" y2="548" stroke="#4b5563" stroke-width="1"/><text x="78.65" y="562.6" textLength="15">35</text><line x1="185.00" x2="185.00" y1="542" y2="548" stroke="#4b5563" stroke-width="1"/><text x="177.40" y="562.6" textLength="15">40</text><line x1="283.75" x2="283.75" y1="542" y2="548" stroke="#4b5563" stroke-width="1"/><text x="276.15" y="562.6" textLength="15">45</text><line x1="382.50" x2="382.50" y1="542" y2="548" stroke="#4b5563" stroke-width="1"/><text x="374.90" y="562.6" textLength="15">50</text><line x1="481.25" x2="481.25" y1="542" y2="548" stroke="#4b5563" stroke-width="1"/><text x="473.65" y="562.6" textLength="15">55</text>
<text x="578.6" y="196.5" fill="#1f2937" textLength="37.6">Adelie</text><text x="578.6" y="339.1" fill="#1f2937" textLength="58.0">Chinstrap</text><text x="578.6" y="481.5" fill="#1f2937" textLength="43.4">Gentoo</text>
<text x="437.4" y="580.3" textLength="117.5">culmen_length_mm</text><text transform="translate(560.2,583) scale(1.1,1.65)" class="ar">→</text>
</svg>
</body></html>
